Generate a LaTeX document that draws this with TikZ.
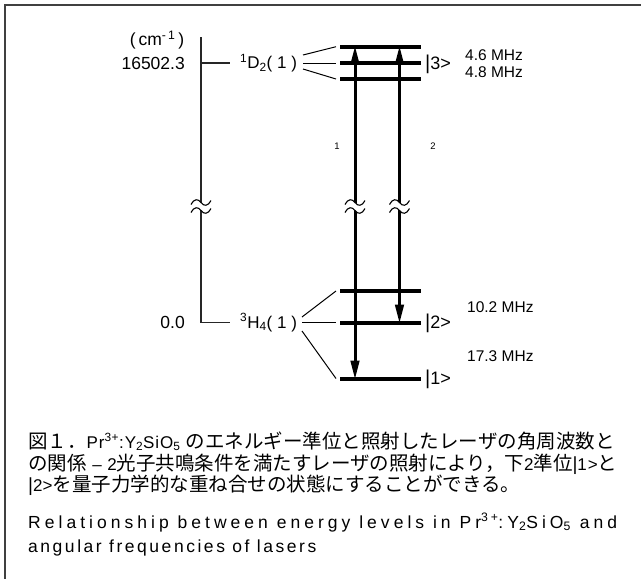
\documentclass[tikz,border=0pt]{standalone}
\usepackage{fontspec}
\setmainfont{Liberation Sans}
\newfontfamily\jpfont{Noto Sans CJK JP}
\newfontfamily\enwide[LetterSpace=5]{Liberation Sans}
\newfontfamily\enspread[LetterSpace=23]{Liberation Sans}
\newfontfamily\enloose[LetterSpace=14.5]{Liberation Sans}
\usetikzlibrary{arrows.meta}
\newcommand{\fsz}[1]{\fontsize{#1}{#1}\selectfont}
\newcommand{\PrYSO}{Pr\textsuperscript{3+}:Y\textsubscript{2}SiO\textsubscript{5}}

\begin{document}
\begin{tikzpicture}[
  x=1pt, y=-1pt,
  frame/.style={black!75, line width=1.5pt},
  axis/.style={black!85, line width=1.2pt},
  fan/.style={black, line width=1pt},
  level/.style={black, line width=4pt},
  laser/.style={black, line width=3pt,
    {Triangle[length=18pt,width=9.5pt,line width=0pt]}-{Triangle[length=18pt,width=9.5pt,line width=0pt]}},
  term/.style={font=\fsz{17}, inner sep=0pt, anchor=west},
  val/.style={font=\fsz{17.5}, inner sep=0pt, anchor=east},
  ket/.style={font=\fsz{18}, inner sep=0pt, anchor=west},
  split/.style={font=\fsz{15.5}, inner sep=0pt, anchor=west},
  beam/.style={font=\fsz{9.5}, inner sep=0pt},
  capjp/.style={font=\fsz{19.5}, inner sep=0pt, anchor=base west},
  capen/.style={font=\fsz{17.5}, inner sep=0pt, anchor=base west},
  brk/.pic={
    \fill[white] (-10,-2) .. controls (-7,-8) and (-3,-8) .. (0,-4)
      .. controls (3,0) and (7,0) .. (10,-6) -- (10,2)
      .. controls (7,8) and (3,8) .. (0,4)
      .. controls (-3,0) and (-7,0) .. (-10,6) -- cycle;
    \draw[line width=1.1pt] (-10,-2) .. controls (-7,-8) and (-3,-8) .. (0,-4)
      .. controls (3,0) and (7,0) .. (10,-6);
    \draw[line width=1.1pt] (-10,6) .. controls (-7,0) and (-3,0) .. (0,4)
      .. controls (3,8) and (7,8) .. (10,2);}]
\useasboundingbox (0,0) rectangle (641,579);

% frame
\draw[frame] (5,579) -- (5,5) -- (641,5);

% energy axis
\coordinate (axtop) at (201,37);
\coordinate (axD) at (201,63);
\coordinate (axH) at (201,322.5);
\coordinate (tickD) at (230,63);
\coordinate (tickH) at (230,322.5);
\draw[axis] (axtop) -- (axH) -- (tickH);
\draw[axis] (axD) -- (tickD);
\node[val, anchor=center] (unit) at (157,40) {(\,cm\textsuperscript{-\,1}\,)};
\node[val] (eD) at (185,63) {16502.3};
\node[val] (eH) at (185,322.5) {0.0};

% terms
\node[term] (D2) at (240,63) {\textsuperscript{1}D\textsubscript{2}( 1 )};
\node[term] (H4) at (240,322.5) {\textsuperscript{3}H\textsubscript{4}( 1 )};

% hyperfine levels
\foreach \n/\y in {u1/79, u2/63, u3/46.7, g3/291, g2/322.5, g1/378.5}{
  \coordinate (\n-w) at (340,\y);
  \coordinate (\n-e) at (421,\y);
  \draw[level] (\n-w) -- (\n-e);}

\foreach \n/\y in {u3/55, u2/63, u1/69}{
  \coordinate (D2\n) at (303,\y);
  \draw[fan] (D2\n) -- ([xshift=-4pt]\n-w);}
\foreach \n/\y in {g3/317, g2/322.5, g1/331}{
  \coordinate (H4\n) at (302,\y);
  \draw[fan] (H4\n) -- ([xshift=-4pt]\n-w);}

% lasers
\coordinate (b1up) at (355,46.7);
\coordinate (b1dn) at (355,378.5);
\coordinate (b2up) at (399.5,46.7);
\coordinate (b2dn) at (399.5,322.5);
\draw[laser] (b1dn) -- (b1up);
\draw[laser] (b2dn) -- (b2up);
\node[beam] (w1) at (337,146) {1};
\node[beam] (w2) at (433,146) {2};

% breaks
\foreach \x in {201,355,399.5}{\pic at (\x,206.5) {brk};}

% kets and splittings
\node[ket] (k3) at (425,64) {{\fsz{20}|}3>};
\node[ket] (k2) at (425,323) {{\fsz{20}|}2>};
\node[ket] (k1) at (425,379) {{\fsz{20}|}1>};
\node[split] (s46) at (465,55) {4.6 MHz};
\node[split] (s48) at (465,72) {4.8 MHz};
\node[split] (s102) at (467,307) {10.2 MHz};
\node[split] (s173) at (467,356) {17.3 MHz};

% caption
\node[capjp] (cap1) at (28,448) {{\jpfont 図１．}{\enwide\fsz{17}\PrYSO\ }{\jpfont のエネルギー準位と照射したレーザの角周波数と}};
\node[capjp] (cap2) at (28,470) {{\jpfont の関係}{\enwide\fsz{17}\ –\ 2}{\jpfont 光子共鳴条件を満たすレーザの照射により，下}{\enwide\fsz{17}2}{\jpfont 準位}{\enwide\fsz{17}{\fsz{19}|}1>}{\jpfont と}};
\node[capjp] (cap3) at (28,491) {{\fsz{17}{\fsz{19}|}2>}{\jpfont を量子力学的な重ね合せの状態にすることができる。}};
\node[capen] (cap4) at (28,528) {\enspread Relationship between energy levels in \PrYSO\ and};
\node[capen] (cap5) at (28,552) {\enloose angular frequencies of lasers};
\end{tikzpicture}
\end{document}
